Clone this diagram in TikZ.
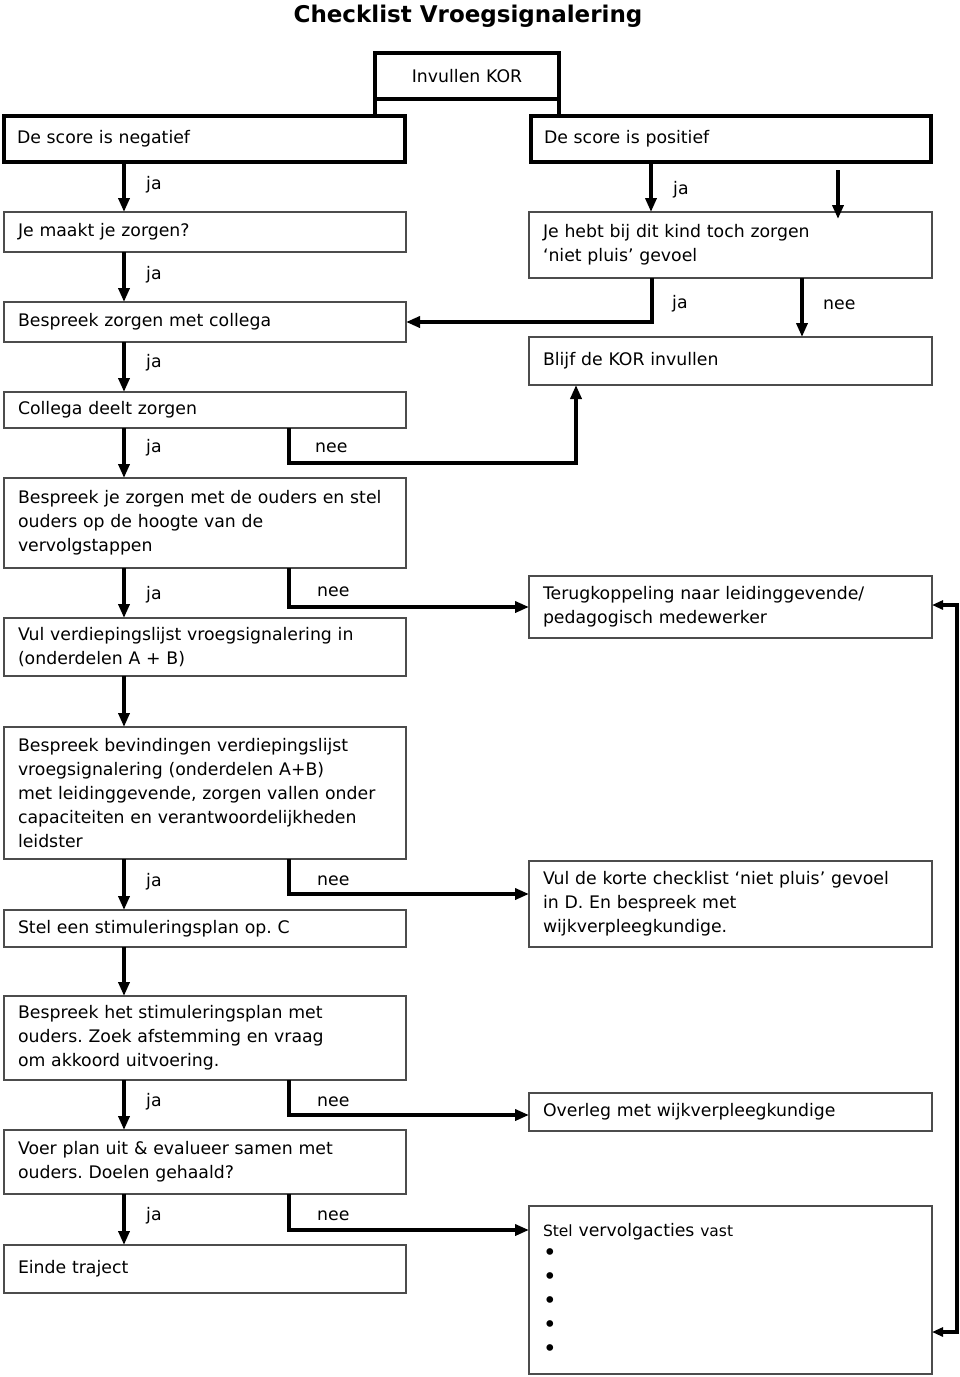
\documentclass[tikz,border=0pt]{standalone}
\usepackage{fontspec}
\setmainfont{DejaVu Sans}
\usetikzlibrary{arrows.meta,calc}
\frenchspacing
\newcommand{\bigbul}{{\fontsize{23}{24}\selectfont •}}
\begin{document}
\begin{tikzpicture}[x=1pt,y=-1pt,
  every node/.style={font=\fontsize{17.3}{24}\selectfont},
  lbox/.style={draw=black!70, line width=1.5pt, anchor=north west, outer sep=0pt,
    inner xsep=14pt, inner ysep=0pt, align=left, text width=374pt, minimum height=#1},
  rbox/.style={draw=black!70, line width=1.5pt, anchor=north west, outer sep=0pt,
    inner xsep=14pt, inner ysep=0pt, align=left, text width=375pt, minimum height=#1},
  tbox/.style={draw=black, line width=4pt, anchor=north west, outer sep=0pt,
    inner xsep=13pt, inner ysep=0pt, align=left, minimum height=46pt},
  lbl/.style={anchor=west, inner sep=0pt},
  conn/.style={line width=4.5pt, black},
  arr/.style={conn, -{Triangle[length=14pt,width=11pt]}},
  dblarr/.style={line width=4pt, black, {Triangle[length=11pt,width=9pt]}-{Triangle[length=11pt,width=9pt]}}
]
\useasboundingbox (0,0) rectangle (960,1377);
\fill[white] (0,0) rectangle (960,1377);

% title
\node[anchor=base, font=\fontsize{23}{28}\selectfont\bfseries] (title) at (468,22) {Checklist Vroegsignalering};

% top thick boxes
\node[tbox, text width=158pt, align=center] (kor) at (375,53) {Invullen KOR};
\node[tbox, text width=375pt] (neg) at (4,116) {De score is negatief};
\node[tbox, text width=374pt] (pos) at (531,116) {De score is positief};

% left column
\node[lbox=40pt] (maak) at (4,212) {Je maakt je zorgen?};
\node[lbox=40pt] (coll) at (4,302) {Bespreek zorgen met collega};
\node[lbox=36pt] (deelt) at (4,392) {Collega deelt zorgen};
\node[lbox=90pt] (ouders) at (4,478) {Bespreek je zorgen met de ouders en stel\\ouders op de hoogte van de\\vervolgstappen};
\node[lbox=58pt] (vul) at (4,618) {Vul verdiepingslijst vroegsignalering in\\(onderdelen A + B)};
\node[lbox=132pt] (bevind) at (4,727) {Bespreek bevindingen verdiepingslijst\\vroegsignalering (onderdelen A+B)\\met leidinggevende, zorgen vallen onder\\capaciteiten en verantwoordelijkheden\\leidster};
\node[lbox=37pt] (stim) at (4,910) {Stel een stimuleringsplan op. C};
\node[lbox=84pt] (bstim) at (4,996) {Bespreek het stimuleringsplan met\\ouders. Zoek afstemming en vraag\\om akkoord uitvoering.};
\node[lbox=64pt] (voer) at (4,1130) {Voer plan uit \& evalueer samen met\\ouders. Doelen gehaald?};
\node[lbox=48pt] (einde) at (4,1245) {Einde traject};

% right column
\node[rbox=66pt] (hebt) at (529,212) {Je hebt bij dit kind toch zorgen\\‘niet pluis’ gevoel};
\node[rbox=48pt] (blijf) at (529,337) {Blijf de KOR invullen};
\node[rbox=62pt] (terug) at (529,576) {Terugkoppeling naar leidinggevende/\\pedagogisch medewerker};
\node[rbox=86pt] (korte) at (529,861) {Vul de korte checklist ‘niet pluis’ gevoel\\in D. En bespreek met\\wijkverpleegkundige.};
\node[rbox=38pt] (overleg) at (529,1093) {Overleg met wijkverpleegkundige};
\node[rbox=168pt] (vervolg) at (529,1206) {{\fontsize{15.5}{24}\selectfont Stel} vervolgacties {\fontsize{15.5}{24}\selectfont vast}\\\bigbul\\\bigbul\\\bigbul\\\bigbul\\\bigbul};

% KOR side lines
\draw[line width=4pt] (kor.south west) -- (kor.south west |- neg.north);
\draw[line width=4pt] (kor.south east) -- (kor.south east |- pos.north);

% helper coordinates
\coordinate (cx) at (124,0);
\coordinate (nx) at (289,0);
\coordinate (px) at (651,0);
\coordinate (qx) at (838,170);
\coordinate (hx) at (652,0);
\coordinate (hn) at (802,0);
\coordinate (bx) at (576,463);
\coordinate (k1) at (0,894);
\coordinate (k2) at (0,1115);
\coordinate (k3) at (0,1230);
\coordinate (r1) at (957,605);
\coordinate (r2) at (957,1332);

% left column ja arrows
\draw[arr] (neg.south -| cx) -- (maak.north -| cx);
\draw[arr] (maak.south -| cx) -- (coll.north -| cx);
\draw[arr] (coll.south -| cx) -- (deelt.north -| cx);
\draw[arr] (deelt.south -| cx) -- (ouders.north -| cx);
\draw[arr] (ouders.south -| cx) -- (vul.north -| cx);
\draw[arr] (vul.south -| cx) -- (bevind.north -| cx);
\draw[arr] (bevind.south -| cx) -- (stim.north -| cx);
\draw[arr] (stim.south -| cx) -- (bstim.north -| cx);
\draw[arr] (bstim.south -| cx) -- (voer.north -| cx);
\draw[arr] (voer.south -| cx) -- (einde.north -| cx);

% nee branches
\draw[arr] (deelt.south -| nx) |- (bx) -- (blijf.south -| bx);
\draw[arr] (ouders.south -| nx) |- (terug.west);
\draw[arr] (bevind.south -| nx) |- (korte.west |- k1);
\draw[arr] (bstim.south -| nx) |- (overleg.west |- k2);
\draw[arr] (voer.south -| nx) |- (vervolg.west |- k3);

% right top
\draw[arr] (pos.south -| px) -- (hebt.north -| px);
\draw[arr] (qx) -- ($(hebt.north -| qx)+(0,7)$);
\draw[arr] (hebt.south -| hx) |- (coll.east);
\draw[arr] (hebt.south -| hn) -- (blijf.north -| hn);

% right feedback line
\draw[dblarr] (terug.east |- r1) -- (r1) -- (r2) -- (vervolg.east |- r2);

% labels
\node[lbl] (j1) at (146,185) {ja};
\node[lbl] (j2) at (146,275) {ja};
\node[lbl] (j3) at (146,363) {ja};
\node[lbl] (j4) at (146,448) {ja};
\node[lbl] (j5) at (146,595) {ja};
\node[lbl] (j6) at (146,882) {ja};
\node[lbl] (j7) at (146,1102) {ja};
\node[lbl] (j8) at (146,1216) {ja};
\node[lbl] (n1) at (315,448) {nee};
\node[lbl] (n2) at (317,592) {nee};
\node[lbl] (n3) at (317,881) {nee};
\node[lbl] (n4) at (317,1102) {nee};
\node[lbl] (n5) at (317,1216) {nee};
\node[lbl] (j9) at (673,190) {ja};
\node[lbl] (j10) at (672,304) {ja};
\node[lbl] (n6) at (823,305) {nee};
\end{tikzpicture}
\end{document}
